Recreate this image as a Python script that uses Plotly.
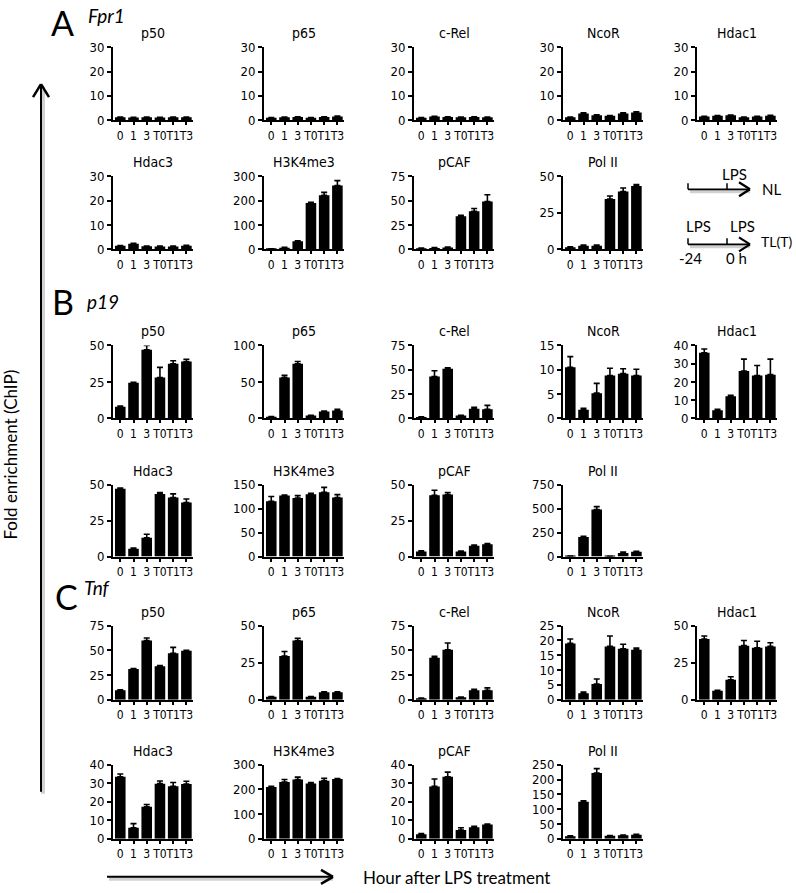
import plotly.graph_objects as go

# ---------------- data ----------------
categories = ["0", "1", "3", "T0", "T1", "T3"]

# Panel A: Fpr1
fpr1_p50 = [1.2, 1.1, 1.2, 1.1, 1.2, 1.2]
fpr1_p50_err = [0.1, 0.1, 0.1, 0.1, 0.1, 0.1]
fpr1_p65 = [1.0, 1.2, 1.3, 1.0, 1.3, 1.5]
fpr1_p65_err = [0.1, 0.1, 0.1, 0.1, 0.1, 0.2]
fpr1_crel = [1.0, 1.5, 1.3, 1.2, 1.3, 1.2]
fpr1_crel_err = [0.1, 0.1, 0.1, 0.1, 0.1, 0.1]
fpr1_ncor = [1.2, 2.8, 2.0, 1.8, 2.8, 3.2]
fpr1_ncor_err = [0.1, 0.3, 0.2, 0.1, 0.2, 0.3]
fpr1_hdac1 = [1.5, 1.8, 2.0, 1.2, 1.5, 1.8]
fpr1_hdac1_err = [0.1, 0.1, 0.1, 0.1, 0.1, 0.2]
fpr1_hdac3 = [1.5, 2.3, 1.3, 1.2, 1.2, 1.5]
fpr1_hdac3_err = [0.1, 0.2, 0.1, 0.1, 0.1, 0.2]
fpr1_h3k4me3 = [2, 7, 33, 190, 222, 262]
fpr1_h3k4me3_err = [0.5, 1, 2, 3, 12, 20]
fpr1_pcaf = [1.0, 1.5, 2.0, 34, 39, 49]
fpr1_pcaf_err = [0.2, 0.3, 0.4, 1, 3, 7]
fpr1_pol2 = [1.5, 2.5, 2.5, 34.5, 39.5, 43.3]
fpr1_pol2_err = [0.3, 0.4, 0.4, 2, 2.5, 1]

# Panel B: p19
p19_p50 = [8, 24.5, 47, 28, 37.5, 39]
p19_p50_err = [0.5, 0.3, 3, 7, 2, 1.5]
p19_p65 = [2.5, 56, 75, 4, 9.5, 11]
p19_p65_err = [0.3, 3, 3, 0.5, 0.5, 1.5]
p19_crel = [1.5, 43, 51, 3, 10, 9.5]
p19_crel_err = [0.3, 6, 1, 0.3, 1.5, 4]
p19_ncor = [10.5, 1.8, 5.2, 8.8, 9.2, 8.8]
p19_ncor_err = [2.2, 0.3, 2, 1.5, 1, 1.3]
p19_hdac1 = [36, 4.5, 12.2, 26, 23.5, 24]
p19_hdac1_err = [2, 0.5, 0.5, 6.5, 5.5, 8.5]
p19_hdac3 = [47, 5.5, 13, 43.5, 41, 37.5]
p19_hdac3_err = [0.5, 0.5, 2.5, 1, 2.5, 2.5]
p19_h3k4me3 = [115, 127, 122, 130, 134, 123]
p19_h3k4me3_err = [10, 1, 5, 2, 10, 6]
p19_pcaf = [3.5, 42.5, 43, 3.5, 7.5, 8.5]
p19_pcaf_err = [0.5, 3.5, 1.5, 0.3, 0.5, 0.5]
p19_pol2 = [5, 205, 490, 3, 38, 50]
p19_pol2_err = [1, 5, 30, 1, 8, 5]

# Panel C: Tnf
tnf_p50 = [9.5, 31, 60, 34, 47, 49.5]
tnf_p50_err = [0.5, 0.5, 2.5, 0.5, 6, 0.5]
tnf_p65 = [2, 29.5, 40, 2, 5, 5]
tnf_p65_err = [0.2, 3, 1.5, 0.2, 0.3, 0.3]
tnf_crel = [1.5, 42.5, 50.5, 2.5, 9.5, 9.5]
tnf_crel_err = [0.2, 1.5, 7, 0.3, 1, 2.5]
tnf_ncor = [19, 2.2, 5.3, 18, 17.2, 16.9]
tnf_ncor_err = [1.5, 0.4, 1.7, 3.5, 1.5, 0.5]
tnf_hdac1 = [41, 6, 13.5, 36.5, 35, 36]
tnf_hdac1_err = [2, 0.3, 2, 3.5, 4.5, 2.5]
tnf_hdac3 = [33.5, 6, 17.3, 29.8, 28.4, 29.6]
tnf_hdac3_err = [1.5, 2.2, 1.2, 1.4, 2, 1.5]
tnf_h3k4me3 = [210, 230, 240, 224, 235, 242]
tnf_h3k4me3_err = [3, 10, 10, 4, 10, 2]
tnf_pcaf = [2.5, 28.3, 33.5, 4.8, 6.3, 7.8]
tnf_pcaf_err = [0.3, 4, 2.5, 1.2, 0.5, 0.2]
tnf_pol2 = [9, 125, 222, 10, 12, 14]
tnf_pol2_err = [1, 3, 15, 1, 1, 1.5]

# y-axis tick values for each panel
ticks_0_30 = [0, 10, 20, 30]
ticks_0_300 = [0, 100, 200, 300]
ticks_0_75 = [0, 25, 50, 75]
ticks_0_50 = [0, 25, 50]
ticks_0_100 = [0, 50, 100]
ticks_0_15 = [0, 5, 10, 15]
ticks_0_40 = [0, 10, 20, 30, 40]
ticks_0_150 = [0, 50, 100, 150]
ticks_0_750 = [0, 250, 500, 750]
ticks_0_25 = [0, 5, 10, 15, 20, 25]
ticks_0_250 = [0, 50, 100, 150, 200, 250]

# (title, values, errors, ticks, row, col)
panels = [
    ("p50", fpr1_p50, fpr1_p50_err, ticks_0_30, 0, 0),
    ("p65", fpr1_p65, fpr1_p65_err, ticks_0_30, 0, 1),
    ("c-Rel", fpr1_crel, fpr1_crel_err, ticks_0_30, 0, 2),
    ("NcoR", fpr1_ncor, fpr1_ncor_err, ticks_0_30, 0, 3),
    ("Hdac1", fpr1_hdac1, fpr1_hdac1_err, ticks_0_30, 0, 4),
    ("Hdac3", fpr1_hdac3, fpr1_hdac3_err, ticks_0_30, 1, 0),
    ("H3K4me3", fpr1_h3k4me3, fpr1_h3k4me3_err, ticks_0_300, 1, 1),
    ("pCAF", fpr1_pcaf, fpr1_pcaf_err, ticks_0_75, 1, 2),
    ("Pol II", fpr1_pol2, fpr1_pol2_err, ticks_0_50, 1, 3),
    ("p50", p19_p50, p19_p50_err, ticks_0_50, 2, 0),
    ("p65", p19_p65, p19_p65_err, ticks_0_100, 2, 1),
    ("c-Rel", p19_crel, p19_crel_err, ticks_0_75, 2, 2),
    ("NcoR", p19_ncor, p19_ncor_err, ticks_0_15, 2, 3),
    ("Hdac1", p19_hdac1, p19_hdac1_err, ticks_0_40, 2, 4),
    ("Hdac3", p19_hdac3, p19_hdac3_err, ticks_0_50, 3, 0),
    ("H3K4me3", p19_h3k4me3, p19_h3k4me3_err, ticks_0_150, 3, 1),
    ("pCAF", p19_pcaf, p19_pcaf_err, ticks_0_50, 3, 2),
    ("Pol II", p19_pol2, p19_pol2_err, ticks_0_750, 3, 3),
    ("p50", tnf_p50, tnf_p50_err, ticks_0_75, 4, 0),
    ("p65", tnf_p65, tnf_p65_err, ticks_0_50, 4, 1),
    ("c-Rel", tnf_crel, tnf_crel_err, ticks_0_75, 4, 2),
    ("NcoR", tnf_ncor, tnf_ncor_err, ticks_0_25, 4, 3),
    ("Hdac1", tnf_hdac1, tnf_hdac1_err, ticks_0_50, 4, 4),
    ("Hdac3", tnf_hdac3, tnf_hdac3_err, ticks_0_40, 5, 0),
    ("H3K4me3", tnf_h3k4me3, tnf_h3k4me3_err, ticks_0_300, 5, 1),
    ("pCAF", tnf_pcaf, tnf_pcaf_err, ticks_0_40, 5, 2),
    ("Pol II", tnf_pol2, tnf_pol2_err, ticks_0_250, 5, 3),
]

# ---------------- layout geometry (target picture pixels) ----------------
W, H = 796, 893
# the captured picture shows the page slightly squeezed vertically;
# positions below are wanted picture pixels, mapped back to page pixels
CAP_H, CAP_OFF = 909, 8
col_x = [113, 264, 414, 563, 697]
plot_w = 80
row_y = [(48, 121), (177, 250), (346, 419), (485, 557), (626, 700), (765, 839)]

NARROW = "Liberation Sans Narrow, Arial Narrow, DejaVu Sans Condensed, Liberation Sans, sans-serif"
CAL = "Lato, Open Sans, sans-serif"


def px(x):
    return x / W


def py(y):
    y_page = y * CAP_H / H - CAP_OFF
    return 1 - y_page / H


fig = go.Figure()
layout = dict(
    width=W, height=H, margin=dict(l=0, r=0, t=0, b=0),
    paper_bgcolor="white", plot_bgcolor="white", showlegend=False,
    bargap=0.2,
)
annotations = []
shapes = []

for i, (title, vals, errs, ticks, r, c) in enumerate(panels):
    n = i + 1
    xa = "x" if n == 1 else f"x{n}"
    ya = "y" if n == 1 else f"y{n}"
    xk = "xaxis" if n == 1 else f"xaxis{n}"
    yk = "yaxis" if n == 1 else f"yaxis{n}"
    fig.add_trace(go.Bar(
        x=categories, y=vals, xaxis=xa, yaxis=ya, width=0.8,
        marker=dict(color="black", line=dict(width=0)),
        error_y=dict(type="data", array=errs, arrayminus=[0] * len(errs),
                     symmetric=False, color="black", thickness=1.6, width=3),
        hoverinfo="x+y",
    ))
    x0 = col_x[c]
    y0, y1 = row_y[r]
    layout[xk] = dict(
        domain=[px(x0), px(x0 + plot_w)], anchor=ya, type="category",
        range=[-0.55, 5.5], showline=True, linewidth=2, linecolor="black",
        tickmode="array", tickvals=categories, ticktext=categories,
        ticks="outside", ticklen=3, tickwidth=1.5, tickcolor="black",
        tickangle=0, showgrid=False, zeroline=False,
        tickfont=dict(family=NARROW, size=12, color="black"),
    )
    layout[yk] = dict(
        domain=[py(y1), py(y0)], anchor=xa, range=[0, ticks[-1]],
        tickvals=ticks, showline=True, linewidth=2, linecolor="black",
        ticks="outside", ticklen=4, tickwidth=1.5, tickcolor="black",
        showgrid=False, zeroline=False, ticklabelstandoff=0,
        tickfont=dict(family=NARROW, size=13, color="black"),
    )
    annotations.append(dict(
        text=title, x=px(x0 + plot_w / 2), y=py(y0 - 14), xref="paper", yref="paper",
        xanchor="center", yanchor="middle", showarrow=False,
        font=dict(family=NARROW, size=14, color="black"),
    ))


def text(t, x, y, size, family=CAL, italic=False, angle=0, xanchor="center"):
    if italic:
        t = f"<i>{t}</i>"
    annotations.append(dict(
        text=t, x=px(x), y=py(y), xref="paper", yref="paper", xanchor=xanchor,
        yanchor="middle", showarrow=False, textangle=angle,
        font=dict(family=family, size=size, color="black"),
    ))


def line(x0, y0, x1, y1, w=2, color="black"):
    shapes.append(dict(type="line", xref="paper", yref="paper",
                       x0=px(x0), y0=py(y0), x1=px(x1), y1=py(y1),
                       line=dict(color=color, width=w)))


# panel letters and gene names
text("A", 62, 23, 34)
text("Fpr1", 106, 16, 19, italic=True)
text("B", 63, 302, 34)
text("p19", 103, 302, 19, italic=True)
text("C", 66, 597, 34)
text("Tnf", 97, 588, 19, italic=True)

# axis labels
text("Fold enrichment (ChIP)", 11, 455, 17, angle=-90)
text("Hour after LPS treatment", 361, 878, 17, xanchor="left")

# big arrows (with soft shadow)
SH = "rgba(0,0,0,0.18)"
line(43, 794, 43, 87, 4, SH)
line(41, 792, 41, 86, 2)
line(33, 98, 41, 85, 2.5)
line(49, 98, 41, 85, 2.5)
line(109, 879, 333, 879, 4, SH)
line(107, 877, 333, 877, 2)
line(321, 870, 333, 877, 2.5)
line(321, 884, 333, 877, 2.5)

# LPS schematic
for yy in (190, 245):
    line(690, yy + 2, 750, yy + 2, 4, SH)
    line(688, yy, 750, yy, 1.8)
    line(739, yy - 7, 750, yy, 2.2)
    line(739, yy + 7, 750, yy, 2.2)
    line(688, yy - 6, 688, yy, 1.5)
    line(727, yy - 6, 727, yy, 1.5)
text("LPS", 734, 175, 15)
text("NL", 760, 190, 15, xanchor="left")
text("LPS", 698, 227, 15)
text("LPS", 742, 227, 15)
text("TL(T)", 794, 242, 14, xanchor="right")
text("-24", 690, 259, 15)
text("0 h", 736, 259, 15)

layout["annotations"] = annotations
layout["shapes"] = shapes
fig.update_layout(**layout)

post = (
    "document.documentElement.style.margin='0';"
    "document.documentElement.style.overflow='hidden';"
    "document.body.style.margin='0';"
    "document.body.style.overflow='hidden';"
)
fig.write_html("out.html", post_script=post, config={"displayModeBar": False})
